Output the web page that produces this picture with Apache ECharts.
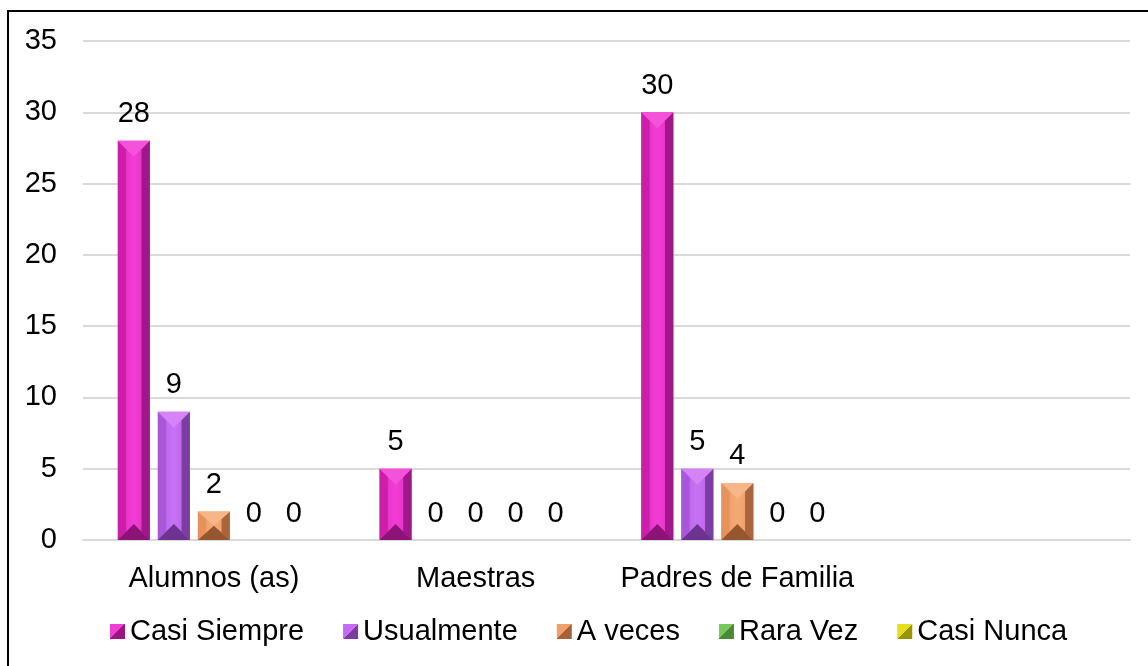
<!DOCTYPE html>
<html>
<head>
<meta charset="utf-8">
<script src="https://cdn.jsdelivr.net/npm/echarts@6/dist/echarts.min.js"></script>
<style>html,body{margin:0;padding:0;background:#fff;}#chart{width:1148px;height:666px;}</style>
</head>
<body>
<div id="chart"></div>
<script>
var categories = ['Alumnos (as)', 'Maestras', 'Padres de Familia', ''];
var seriesNames = ['Casi Siempre', 'Usualmente', 'A veces', 'Rara Vez', 'Casi Nunca'];
var casiSiempre = [28, 5, 30];
var usualmente = [9, 0, 5];
var aVeces = [2, 0, 4];
var raraVez = [0, 0, 0];
var casiNunca = [0, 0, 0];
var yTicks = [0, 5, 10, 15, 20, 25, 30, 35];

var values = [casiSiempre, usualmente, aVeces, raraVez, casiNunca];
var palettes = [
  {top:'#F452DA', left:'#CC1EAB', mid:'#E02ABD', hi:'#F03CD4', right:'#A0178A', bottom:'#8C1477', icoL:'#F03ED4', icoD:'#9A1683'},
  {top:'#D583F7', left:'#A956DB', mid:'#B460E4', hi:'#C670F4', right:'#7C3DA2', bottom:'#6C3490', icoL:'#C46CF2', icoD:'#7A3C9E'},
  {top:'#F7B688', left:'#E6925C', mid:'#EC9A64', hi:'#F4A874', right:'#A9653B', bottom:'#955730', icoL:'#F0A06C', icoD:'#A5623A'},
  {top:'#8ED672', left:'#62B048', mid:'#6CBC50', hi:'#7ACA5E', right:'#3F7A2C', bottom:'#386C27', icoL:'#78C85A', icoD:'#4A8A34'},
  {top:'#F2EE40', left:'#D2CC08', mid:'#DCD610', hi:'#E8E224', right:'#9A9400', bottom:'#888200', icoL:'#E4DE1C', icoD:'#9A9400'}
];
var FONT = 'Liberation Sans, Arial, sans-serif';
var FS = 29;

function makeRender(s) {
  var p = palettes[s];
  return function (params, api) {
    var ci = api.value(0), v = api.value(1);
    var base = api.coord([ci, 0]);
    var topPt = api.coord([ci, v]);
    var catW = api.size([1, 0])[0];
    var w = catW * 0.734 / 6;
    var xc = base[0] + (s - 2) * w * 1.25;
    var x0 = xc - w / 2, x1 = xc + w / 2;
    var yb = base[1], yt = topPt[1];
    var h = yb - yt;
    var children = [];
    if (h > 0.5) {
      var t = Math.min(w * 0.5, h / 2);
      var b = w * 0.26;
      var tb = t * b / (w / 2);
      children.push({type:'rect', shape:{x:x0, y:yt, width:w, height:h},
        style:{fill:{type:'linear', x:0, y:0, x2:1, y2:0, colorStops:[
          {offset:0, color:p.mid},{offset:0.45, color:p.hi},{offset:0.55, color:p.hi},{offset:1, color:p.mid}]}}});
      children.push({type:'polygon', shape:{points:[[x0,yt],[x0+b,yt+tb],[x0+b,yb-tb],[x0,yb]]}, style:{fill:p.left}});
      children.push({type:'polygon', shape:{points:[[x1,yt],[x1-b,yt+tb],[x1-b,yb-tb],[x1,yb]]}, style:{fill:p.right}});
      children.push({type:'polygon', shape:{points:[[x0,yt],[x1,yt],[xc,yt+t]]}, style:{fill:p.top}});
      children.push({type:'polygon', shape:{points:[[x0,yb],[x1,yb],[xc,yb-t]]}, style:{fill:p.bottom}});
    }
    children.push({type:'text', style:{text:String(v), x:xc, y:yt - 12, align:'center', verticalAlign:'bottom',
      font:FS + 'px ' + FONT, fill:'#000'}});
    return {type:'group', children:children};
  };
}

var series = seriesNames.map(function (name, s) {
  var p = palettes[s];
  return {
    name: name,
    type: 'custom',
    renderItem: makeRender(s),
    encode: {x: 0, y: 1},
    itemStyle: {color: {type:'linear', x:0, y:0, x2:1, y2:1, colorStops:[
      {offset:0, color:p.icoL},{offset:0.5, color:p.icoL},{offset:0.5, color:p.icoD},{offset:1, color:p.icoD}]}},
    data: values[s].map(function (v, i) { return [i, v]; })
  };
});

var chart = echarts.init(document.getElementById('chart'), null, {renderer:'canvas'});
chart.setOption({
  animation: false,
  backgroundColor: '#fff',
  graphic: [{type:'rect', shape:{x:8, y:11, width:1300, height:800}, style:{fill:'none', stroke:'#000', lineWidth:2}, z:-10}],
  grid: {left:83, right:18, top:41, bottom:126, containLabel:false},
  legend: {
    data: seriesNames,
    left: 110, top: 617,
    icon: 'rect', itemWidth: 15, itemHeight: 15, itemGap: 39, padding: 0,
    textStyle: {fontSize: FS, fontFamily: FONT, color: '#000'}
  },
  xAxis: {
    type: 'category', data: categories,
    axisLine: {lineStyle:{color:'#D9D9D9', width:2}},
    axisTick: {show:false},
    axisLabel: {fontSize:FS, fontFamily:FONT, color:'#000', margin:24, interval:0},
    splitLine: {show:false}
  },
  yAxis: {
    type: 'value', min: yTicks[0], max: yTicks[yTicks.length-1], interval: 5,
    axisLine: {show:false}, axisTick: {show:false},
    axisLabel: {fontSize:FS, fontFamily:FONT, color:'#000', margin:26},
    splitLine: {lineStyle:{color:'#D9D9D9', width:2}}
  },
  series: series
});
</script>
</body>
</html>
